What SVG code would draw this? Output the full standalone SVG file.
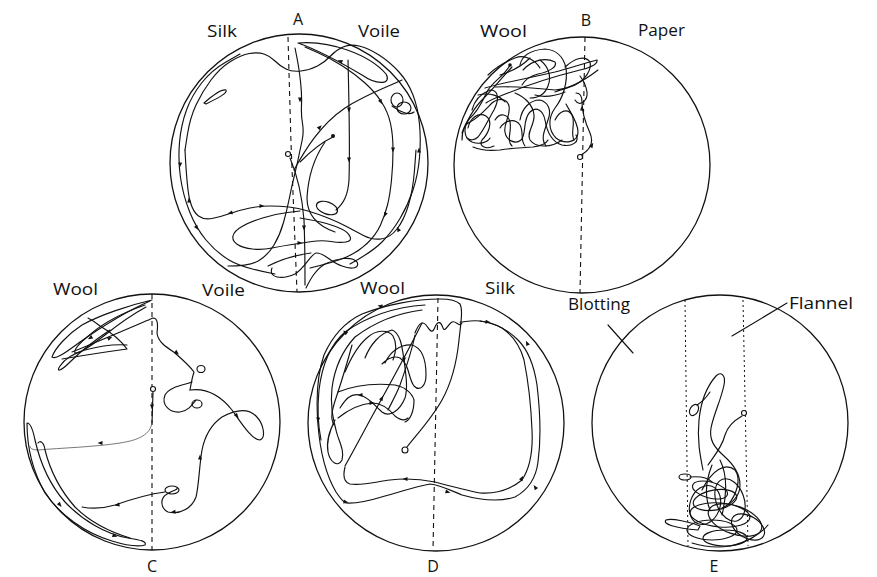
<svg xmlns="http://www.w3.org/2000/svg" xmlns:xlink="http://www.w3.org/1999/xlink" width="877" height="577" viewBox="0 0 877 577">
<style>
.dish{fill:none;stroke:#111;stroke-width:1.3}
.tr{fill:none;stroke:#111;stroke-width:1.15;stroke-linecap:round;stroke-linejoin:round}
.thin{fill:none;stroke:#555;stroke-width:0.8}
.dash{fill:none;stroke:#111;stroke-width:1.1;stroke-dasharray:5 4}
.dot{fill:none;stroke:#111;stroke-width:1;stroke-dasharray:2 3}
.st{fill:#fff;stroke:#111;stroke-width:1.1}
.lab{font-family:"Open Sans","Lato","Liberation Sans",sans-serif;font-size:17px;fill:#111}
.big{font-family:"Open Sans","Lato","Liberation Sans",sans-serif;font-size:16px;fill:#111;text-anchor:middle}
.ah{fill:#111}
</style>
<defs>
<path id="ah" d="M2.5,0 L-2.5,-2 L-2.5,2 Z"/>
</defs>
<rect width="877" height="577" fill="#fff"/>

<g id="panelA">
<circle class="dish" cx="299" cy="163" r="129"/>
<path class="dash" d="M288,37 L291,143 L297,292"/>
<path class="tr" d="M240,54 L226,62 Q212,70 202,82.5 Q192,95 186.5,110 Q181,125 179.5,142.5 Q178,160 180.5,177.5 Q183,195 189.5,211.5 Q196,228 206,240 Q216,252 229,260 Q242,268 275,274"/>
<path class="tr" d="M185,150 L187.5,134 Q190,118 196,105 Q202,92 211,80 Q220,68 230.5,61.5 Q241,55 249.5,53.5 Q258,52 264,54 Q270,56 275,61 Q280,66 286,69 Q292,72 301,71 Q310,70 317.5,66 Q325,62 330.5,56 Q336,50 343,47 Q350,44 359,46 Q368,48 379,55 Q390,62 399,72 Q408,82 413,95 Q418,108 419.5,124 Q421,140 419.5,157.5 Q418,175 413,190 Q408,205 400,218.5 Q392,232 382,242 Q372,252 350,264"/>
<path class="tr" d="M416,150 L414.5,170 Q413,190 408.5,205 Q404,220 397,229 Q390,238 381,239 Q372,240 363.5,235.5 Q355,231 346.5,226.5 Q338,222 328,218 Q318,214 308,211 Q298,208 289,207 Q280,206 270,206 Q260,206 250,208 Q240,210 230,213.5 Q220,217 212,218.5 Q204,220 198.5,216 Q193,212 190,201 Q187,190 185,150"/>
<path class="tr" d="M298,43 C330,40 370,55 386,74 C392,84 378,86 362,75 C340,62 318,50 298,43 Z"/>
<path class="tr" d="M305,47 L317.5,52.5 Q330,58 342.5,66 Q355,74 365,83 Q375,92 381.5,102 Q388,112 390.5,123.5 Q393,135 393,150 Q393,165 391.5,180 Q390,195 387.5,205 Q385,215 380.5,225 Q376,235 367,243.5 Q358,252 346.5,257 Q335,262 310,268"/>
<path class="tr" d="M348,60 C349,100 350,150 349,180 C348,195 344,203 336,210"/>
<ellipse class="tr" cx="327" cy="208" rx="11" ry="6" transform="rotate(20 327 208)"/>
<path class="tr" d="M294,170 C305,150 320,125 345,108 C365,95 385,88 402,80"/>
<ellipse class="tr" cx="397" cy="100" rx="6" ry="7"/>
<ellipse class="tr" cx="404" cy="108" rx="7" ry="6"/>
<path class="tr" d="M392,106 C400,112 410,116 414,112"/>
<path class="tr" d="M300,162 C310,152 322,142 333,137"/>
<circle class="ah" cx="333" cy="136" r="2"/>
<path class="tr" d="M325,142 C314,158 308,178 307,198 C307,215 318,226 335,232"/>
<path class="tr" d="M290,158 C296,172 302,195 304,220 C305,245 305,265 305,285"/>
<path class="tr" d="M295,48 L297,58 Q299,68 300.5,81.5 Q302,95 301.5,105 Q301,115 302.5,123.5 Q304,132 302,141 Q300,150 298.5,157.5 Q297,165 294.5,175 Q292,185 289.5,197.5 Q287,210 283.5,222.5 Q280,235 274,245 Q268,255 259,260.5 Q250,266 228,266"/>
<path class="tr" d="M300,211 L287.5,212.5 Q275,214 262.5,218 Q250,222 242,226.5 Q234,231 233,236 Q232,241 237.5,244.5 Q243,248 252.5,249 Q262,250 272,248 Q282,246 292,244.5 Q302,243 312,241.5 Q322,240 331,241.5 Q340,243 346,242 Q352,241 350,236.5 Q348,232 341.5,229 Q335,226 326.5,223.5 Q318,221 300,218"/>
<path class="tr" d="M272,268 C268,278 282,280 295,274 C305,268 310,255 316,253 C324,252 330,262 342,266 C352,270 360,268 357,262 C352,256 338,258 325,264 C315,270 310,280 306,288"/>
<path class="tr" d="M268,266 C280,260 295,255 311,253"/>
<path class="tr" d="M204,103 C212,96 222,89 226,90 C228,93 218,98 206,104 Z"/>
<circle class="st" cx="288" cy="154" r="2.5"/>
<g class="ah">
<use href="#ah" transform="translate(180,165) rotate(95)"/>
<use href="#ah" transform="translate(197,228) rotate(55)"/>
<use href="#ah" transform="translate(189,200) rotate(-95)"/>
<use href="#ah" transform="translate(262,206) rotate(0)"/>
<use href="#ah" transform="translate(349,110) rotate(90)"/>
<use href="#ah" transform="translate(349,160) rotate(90)"/>
<use href="#ah" transform="translate(393,150) rotate(90)"/>
<use href="#ah" transform="translate(381,102) rotate(60)"/>
<use href="#ah" transform="translate(419,150) rotate(-90)"/>
<use href="#ah" transform="translate(304,228) rotate(90)"/>
<use href="#ah" transform="translate(320,127) rotate(-45)"/>
<use href="#ah" transform="translate(300,243) rotate(0)"/>
<use href="#ah" transform="translate(340,61) rotate(205)"/>
<use href="#ah" transform="translate(385,215) rotate(110)"/>
<use href="#ah" transform="translate(300,100) rotate(90)"/>
<use href="#ah" transform="translate(230,213) rotate(165)"/>
<use href="#ah" transform="translate(398,229) rotate(-120)"/>
</g>
<text class="big" x="298" y="25">A</text>
<text class="lab" x="207" y="37" textLength="30" lengthAdjust="spacingAndGlyphs">Silk</text>
<text class="lab" x="358" y="37" textLength="42" lengthAdjust="spacingAndGlyphs">Voile</text>
</g>

<g id="panelB">
<circle class="dish" cx="582" cy="165" r="128"/>
<path class="dash" d="M585,37 L580,293"/>
<path class="tr" d="M581,155 C590,150 594,143 590,133 C585,122 582,112 582,102 C582,96 580,93 576,93"/>
<path class="tr" d="M520,65 C522,55 532,50 545,49 C556,50 563,55 566,68 C568,82 563,98 555,108 C548,118 548,130 556,138 C565,145 578,142 578,132 C578,122 570,112 566,104"/>
<path class="tr" d="M510,65 C505,75 495,80 488,90 C483,100 478,112 470,118 C463,126 463,138 472,142 C480,145 488,142 490,138"/>
<path class="tr" d="M485,88 C505,82 530,78 555,72 C570,68 585,63 597,60 C598,64 590,68 580,70 C560,75 535,82 508,93 C498,97 490,100 486,103"/>
<path class="tr" d="M495,87 C510,86 535,88 555,90 C570,89 585,80 598,70"/>
<path class="tr" d="M462,140 C462,130 465,124 470,122 C478,118 485,110 492,103 C498,98 507,98 509,106 C511,116 503,124 505,132 C506,140 515,145 521,140 C527,134 522,120 530,112 C536,106 543,110 545,120 C547,132 552,142 562,145 C572,147 580,142 576,135"/>
<path class="tr" d="M473,147 C480,150 490,151 500,150 C512,148 522,148 533,147 C540,146 546,144 548,140"/>
<path class="tr" d="M472,110 C474,102 480,94 490,90 C498,90 500,98 494,110 C488,120 484,130 478,137 C475,140 470,141 467,138"/>
<path class="tr" d="M515,93 C525,97 533,105 534,115 C535,125 526,132 530,140 C535,147 550,149 562,140"/>
<path class="tr" d="M523,70 C532,60 545,57 555,62 C558,67 548,72 538,74 C530,76 525,80 522,85"/>
<path class="tr" d="M500,75 C510,72 522,66 530,58"/>
<path class="tr" d="M535,95 C545,98 555,96 565,92"/>
<path class="tr" d="M565,67 C575,58 585,55 590,62 C592,70 585,80 575,85 C568,88 560,90 555,92"/>
<path class="tr" d="M575,100 C580,108 588,100 587,92 C586,85 583,80 580,76"/>
<path class="tr" d="M462,133 C466,122 474,108 482,100 C490,92 500,80 512,67"/>
<path class="tr" d="M468,128 C470,118 478,112 486,116 C494,122 488,134 482,140 C478,146 486,150 494,146"/>
<path class="tr" d="M495,120 C500,112 508,114 510,122 C512,132 506,140 512,146"/>
<path class="tr" d="M520,120 C522,108 530,100 540,100 C548,102 552,110 548,120 C545,130 540,138 546,146"/>
<path class="tr" d="M555,120 C560,110 568,108 572,115 C576,124 570,132 574,140"/>
<path class="tr" d="M488,75 C495,68 505,62 515,58 C525,54 535,60 540,68"/>
<path class="tr" d="M478,95 C490,92 500,96 505,102"/>
<path class="tr" d="M540,60 C548,66 552,76 548,86 C545,94 538,98 530,98"/>
<path class="tr" d="M500,128 C505,120 515,118 520,125 C524,132 520,140 525,146"/>
<circle class="ah" cx="510" cy="65" r="1.8"/>
<circle class="st" cx="580" cy="157" r="2.5"/>
<g class="ah">
<use href="#ah" transform="translate(582,108) rotate(-90)"/>
<use href="#ah" transform="translate(592,145) rotate(-60)"/>
</g>
<text class="big" x="586" y="26">B</text>
<text class="lab" x="480" y="37" textLength="47" lengthAdjust="spacingAndGlyphs">Wool</text>
<text class="lab" x="638" y="36" textLength="47" lengthAdjust="spacingAndGlyphs">Paper</text>
</g>

<g id="panelC">
<circle class="dish" cx="152" cy="422" r="128"/>
<path class="dash" d="M152,294 L152,550"/>
<path class="tr" d="M152,300 C130,305 100,315 82,325 C68,334 55,348 52,357 C56,360 66,352 80,342 C100,328 125,312 150,301"/>
<path class="tr" d="M145,305 C125,312 105,322 92,333 C82,341 73,350 75,353 C80,354 92,345 105,335 C120,323 135,313 146,307"/>
<path class="tr" d="M110,330 C95,340 80,352 70,362 C60,372 56,372 60,366 C66,357 75,353 85,350 C100,346 115,344 127,345"/>
<path class="tr" d="M62,359 C80,356 105,352 127,349 C122,342 112,333 100,326 C95,322 92,320 88,318"/>
<path class="tr" d="M72,352 C95,343 125,330 153,318 C158,318 158,325 157,333 C158,342 166,347 175,353 C183,360 190,366 194,372 C192,378 191,384 190,390"/>
<ellipse class="tr" cx="201" cy="369" rx="4" ry="3.5"/>
<path class="tr" d="M192,382 C185,385 170,386 165,395 C161,405 170,413 180,412 C188,411 192,405 196,400"/>
<ellipse class="tr" cx="197" cy="404" rx="5" ry="4"/>
<path class="tr" d="M190,390 C205,388 220,395 232,410 C242,424 252,440 260,440 C266,438 264,424 256,416 C248,408 235,410 222,417 C212,424 205,435 202,450 C199,468 199,485 196,497 C192,508 180,515 168,512 C160,508 160,498 167,494 C173,490 178,490 177,488"/>
<ellipse class="tr" cx="172" cy="490" rx="7" ry="4"/>
<path class="tr" d="M165,492 C150,494 132,499 115,505 C105,508 92,509 82,507"/>
<path class="tr" d="M153,392 L152,423"/>
<path class="thin" d="M152,423 C150,434 140,440 120,443 C95,447 60,448 38,450 C32,450 30,448 30,446"/>
<path class="tr" d="M27,423 C27,445 32,470 45,493 C60,515 85,533 112,541 C125,545 138,547 145,545 C147,541 140,540 128,538 C105,534 82,520 65,502 C50,485 40,462 35,440 C33,430 30,423 27,423 Z"/>
<path class="tr" d="M38,443 C40,440 44,442 45,450 C50,470 60,490 75,507 C90,522 110,532 130,538"/>
<circle class="st" cx="153" cy="389" r="2.5"/>
<g class="ah">
<use href="#ah" transform="translate(152,407) rotate(90)"/>
<use href="#ah" transform="translate(100,443) rotate(180)"/>
<use href="#ah" transform="translate(110,338) rotate(-25)"/>
<use href="#ah" transform="translate(90,338) rotate(150)"/>
<use href="#ah" transform="translate(200,457) rotate(-90)"/>
<use href="#ah" transform="translate(237,416) rotate(50)"/>
<use href="#ah" transform="translate(117,505) rotate(170)"/>
<use href="#ah" transform="translate(60,505) rotate(50)"/>
<use href="#ah" transform="translate(115,536) rotate(20)"/>
<use href="#ah" transform="translate(177,353) rotate(40)"/>
<use href="#ah" transform="translate(173,512) rotate(175)"/>
</g>
<text class="big" x="152" y="572">C</text>
<text class="lab" x="53" y="295" textLength="45" lengthAdjust="spacingAndGlyphs">Wool</text>
<text class="lab" x="202" y="296" textLength="43" lengthAdjust="spacingAndGlyphs">Voile</text>
</g>

<g id="panelD">
<circle class="dish" cx="436" cy="423" r="128"/>
<path class="dash" d="M438,298 L433,550"/>
<path class="tr" d="M407,447 C418,433 432,418 442,400 C452,382 457,360 459,340 C461,322 463,310 460,304 C456,300 450,299 440,299 C415,299 385,305 362,314 C345,322 332,337 324,355 C317,375 316,400 318,425 C320,450 326,475 336,492 C340,498 343,502 346,503 C358,504 372,500 385,496 C400,492 418,486 430,484 C440,485 450,490 462,495 C480,500 500,502 515,497 C528,490 536,478 538,462 C541,440 540,410 537,385 C534,365 528,350 518,340 C508,330 495,323 480,321 C470,320 465,322 460,322"/>
<path class="tr" d="M345,467 C343,475 343,482 350,484 C362,486 375,482 390,480 C405,478 420,479 435,482 C450,486 465,490 480,493 C495,494 510,490 522,480 C530,468 533,450 532,430 C531,405 528,380 524,360 C520,345 512,335 502,328 C495,324 488,322 480,321"/>
<path class="tr" d="M345,466 C355,448 362,435 370,420 C385,393 405,357 422,323"/>
<path class="tr" d="M425,305 C395,307 368,316 345,332 C330,345 322,365 319,390 C317,410 318,425 321,440"/>
<path class="tr" d="M422,310 C398,313 375,322 355,337 C343,350 335,365 332,388 C330,405 333,418 336,430 C338,440 345,450 342,460 C338,468 330,462 328,452 C326,440 330,430 335,420"/>
<path class="tr" d="M415,333 C418,325 422,320 426,325 C430,330 432,335 435,327 C438,320 441,322 443,328 C445,333 448,324 452,322 C456,320 459,328 462,323"/>
<path class="tr" d="M385,363 C390,352 400,344 412,345 C422,348 426,360 426,375 C426,386 420,392 414,386 C408,378 410,365 400,358 C393,355 386,360 382,364"/>
<path class="tr" d="M365,358 C370,345 380,333 392,330 C400,333 402,345 404,360 C406,375 408,388 405,398 C400,410 390,418 382,412 C374,405 370,398 360,395 C350,393 345,400 340,408"/>
<path class="tr" d="M338,418 C348,410 360,404 372,403 C382,403 390,410 395,416 C400,420 405,421 408,418"/>
<path class="tr" d="M345,372 C350,360 358,345 368,337 C376,330 388,329 393,336 C397,343 396,352 393,360"/>
<path class="tr" d="M338,392 C355,385 375,383 395,385 C405,387 412,393 414,400 C414,412 410,420 405,422"/>
<path class="tr" d="M415,335 C412,350 406,368 400,385 C396,395 392,402 388,410"/>
<path class="tr" d="M352,345 C348,360 342,380 336,398 C332,410 330,418 334,425"/>
<circle class="st" cx="405" cy="450" r="3"/>
<g class="ah">
<use href="#ah" transform="translate(380,306) rotate(190)"/>
<use href="#ah" transform="translate(488,322) rotate(5)"/>
<use href="#ah" transform="translate(527,343) rotate(-115)"/>
<use href="#ah" transform="translate(535,487) rotate(-125)"/>
<use href="#ah" transform="translate(522,478) rotate(-60)"/>
<use href="#ah" transform="translate(448,492) rotate(15)"/>
<use href="#ah" transform="translate(405,479) rotate(180)"/>
<use href="#ah" transform="translate(346,502) rotate(10)"/>
<use href="#ah" transform="translate(382,398) rotate(-60)"/>
<use href="#ah" transform="translate(318,420) rotate(95)"/>
<use href="#ah" transform="translate(345,332) rotate(-140)"/>
<use href="#ah" transform="translate(360,395) rotate(180)"/>
<use href="#ah" transform="translate(404,360) rotate(90)"/>
<use href="#ah" transform="translate(372,403) rotate(0)"/>
</g>
<text class="big" x="433" y="572">D</text>
<text class="lab" x="360" y="294" textLength="45" lengthAdjust="spacingAndGlyphs">Wool</text>
<text class="lab" x="485" y="294" textLength="30" lengthAdjust="spacingAndGlyphs">Silk</text>
</g>

<g id="panelE">
<circle class="dish" cx="720" cy="423" r="128"/>
<path class="dot" d="M685,300 L688,546"/>
<path class="dot" d="M743,300 L748,546"/>
<path class="tr" d="M608,325 L633,353"/>
<path class="tr" d="M787,303 L732,336"/>
<path class="tr" d="M742,416 C735,420 728,425 725,435 C722,447 715,455 708,465"/>
<path class="tr" d="M703,470 C700,455 697,440 699,420 C701,400 708,385 716,376 C721,371 726,375 724,385 C721,400 714,413 711,428 C709,440 714,447 724,456 C733,464 740,474 740,485 C740,495 733,503 722,508"/>
<ellipse class="tr" cx="694" cy="410" rx="4" ry="6" transform="rotate(30 694 410)"/>
<path class="tr" d="M697,405 C702,402 706,398 710,392"/>
<ellipse class="tr" cx="685" cy="477" rx="6" ry="3"/>
<path class="tr" d="M690,477 C700,476 708,478 712,482"/>
<ellipse class="tr" cx="715" cy="500" rx="22" ry="10" transform="rotate(-10 715 500)"/>
<ellipse class="tr" cx="720" cy="515" rx="30" ry="12" transform="rotate(5 720 515)"/>
<ellipse class="tr" cx="712" cy="530" rx="25" ry="10"/>
<ellipse class="tr" cx="735" cy="520" rx="28" ry="14" transform="rotate(20 735 520)"/>
<ellipse class="tr" cx="725" cy="538" rx="22" ry="8"/>
<ellipse class="tr" cx="705" cy="505" rx="15" ry="20" transform="rotate(20 705 505)"/>
<ellipse class="tr" cx="730" cy="500" rx="14" ry="22" transform="rotate(-20 730 500)"/>
<ellipse class="tr" cx="748" cy="527" rx="18" ry="11" transform="rotate(30 748 527)"/>
<ellipse class="tr" cx="710" cy="490" rx="18" ry="8" transform="rotate(15 710 490)"/>
<path class="tr" d="M700,526 C690,522 672,518 666,520 C662,524 675,528 698,530 Z"/>
<path class="tr" d="M702,490 C712,470 725,462 735,470 C742,480 736,495 728,505"/>
<path class="tr" d="M712,465 C706,480 704,495 710,510"/>
<path class="tr" d="M720,460 C726,472 728,490 722,515"/>
<path class="tr" d="M692,543 C705,547 718,548 730,546 C745,543 760,535 768,525"/>
<circle class="st" cx="744" cy="413" r="2.5"/>
<text class="big" x="714" y="572">E</text>
<text class="lab" x="568" y="310" textLength="62" lengthAdjust="spacingAndGlyphs">Blotting</text>
<text class="lab" x="789" y="309" textLength="64" lengthAdjust="spacingAndGlyphs">Flannel</text>
</g>
</svg>
